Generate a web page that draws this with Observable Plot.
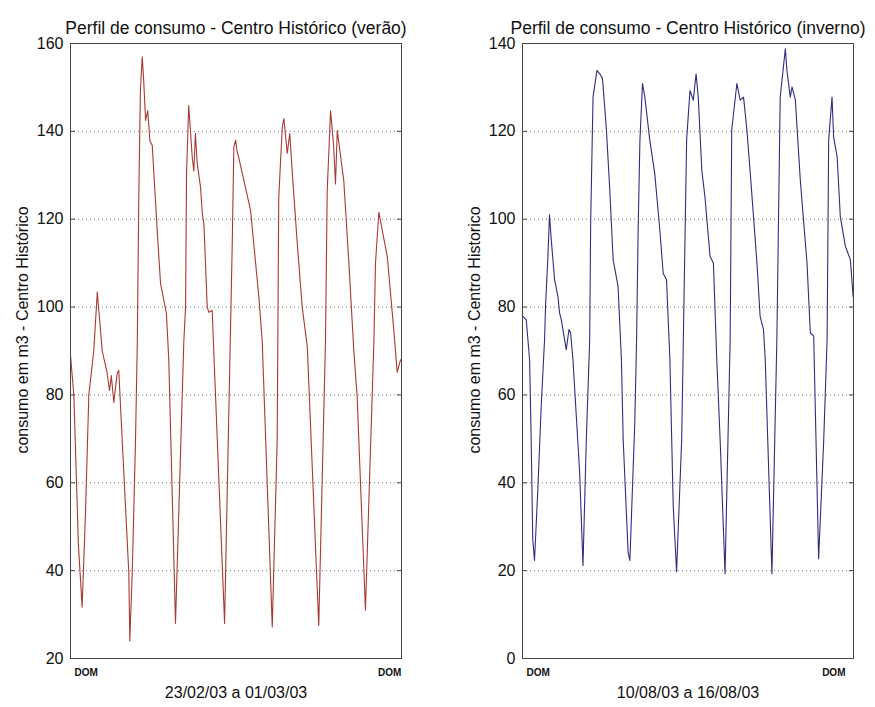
<!DOCTYPE html>
<html>
<head>
<meta charset="utf-8">
<script src="https://cdn.jsdelivr.net/npm/d3@7"></script>
<script src="https://cdn.jsdelivr.net/npm/@observablehq/plot@0.6"></script>
<style>
  html, body { margin: 0; padding: 0; background: #fff; }
  #wrap { display: flex; width: 875px; height: 707px; }
</style>
</head>
<body>
<div id="wrap"></div>
<script>
// ---- Data (hour of the week, consumption m3) ----
const veraoHora = [0,1.7,4,5.9,7.6,9.3,11.8,13.6,16.1,18.6,19.8,20.7,22.0,23.7,24.5,25.0,27.1,29.6,30.1,31.3,33.0,33.9,34.7,35.5,36.4,37.1,38.1,39.2,40.3,41.5,44.0,45.7,48.7,49.9,53.3,57.5,58.4,58.9,60.0,61.8,62.6,63.4,64.3,66.0,66.9,67.7,69.4,70.2,71.9,78.2,82.1,82.9,83.8,84.6,85.4,91.4,95.6,97.3,102.4,104.9,105.7,107.5,108.3,110.0,111.3,112.5,115.1,117.6,120.2,126.0,129.4,130.3,132.0,133.6,134.5,135.4,138.7,141.3,143.8,145.5,149.7,154.0,154.8,156.5,160.8,164.1,165.8,167.5];
const veraoConsumo = [89,80,46,31.7,53,80,90,103.4,90,85,81,84.4,78.3,85,85.6,81,62,39.4,24,39,69.6,92,126.5,149.3,157,152,142.5,144.7,137.9,136.8,117.4,105.4,98.5,87.8,28,92,100,130.4,145.9,134,131,139.5,132.7,127.3,121.3,119,100,98.8,99.2,28,114.5,136.4,138,135.3,134,122,102.3,92.4,27.2,69.6,125,141,142.9,135,139.5,131,114.5,100,90.9,27.5,92,126.5,144.7,136.4,128,140.2,128.8,110,90,79.5,31,92.4,110,121.6,111.4,94.7,85.2,88];

const invernoHora = [0.2,1.9,3.6,4.4,5.2,6.1,7.8,9.5,11.2,11.7,12.9,13.7,14.6,16.3,18.0,18.8,19.7,22.2,23.6,24.4,25.6,29.0,30.7,32.4,34.1,34.6,35.8,37.8,39.2,40.6,42.6,44.3,46.0,48.5,50.2,51.1,53.6,54.5,57.0,57.9,58.7,59.6,60.9,62.1,64.6,67.1,69.7,71.4,73.1,74.8,76.5,78.2,80.8,83.3,85.0,86.7,88.1,89.2,91.0,92.6,95.2,96.9,98.6,100.3,102.8,105.4,106.2,108.8,110.5,112.2,113.9,115.6,119.0,120.6,122.3,123.2,126.6,129.1,130.8,133.4,134.2,135.9,136.8,138.5,141.0,144.4,146.1,147.8,150.3,152.9,154.6,155.4,157.1,157.9,159.7,161.3,163.9,166.4,167.8];
const invernoConsumo = [77.9,77.1,68,49.9,27.2,22.3,38.6,57.5,72.6,80.2,91.5,101,95.3,86.2,82.4,78.7,77.1,70.3,74.9,74.2,68.1,42.4,21.2,49.9,72.6,99.2,127.8,133.9,133.1,132,120.3,106.6,90.8,84.7,68.1,49.9,24.2,22.3,53.8,72.6,97.6,118,130.9,127.8,118,110.5,97.6,87.7,86.2,68.1,34.8,19.7,49.9,118,129.3,127.1,133.1,127.8,111.2,105.1,91.5,90,68.1,49.9,19.3,72.6,120.3,130.9,127.1,127.8,120.3,110.5,90,77.9,74.9,68.1,19.3,72.6,127.8,138.8,133.9,127.8,130.1,127.1,108.9,90,74.1,73.4,22.7,49.9,72.6,118,127.8,118.7,114.2,100.6,93.8,90.8,82.4];

const veraoYTicks = [20,40,60,80,100,120,140,160];
const invernoYTicks = [0,20,40,60,80,100,120,140];
const veraoXTicks = [8,162];
const invernoXTicks = [8,158];
const xTickLabel = "DOM";

const panels = [
  {
    title: "Perfil de consumo - Centro Histórico (verão)",
    ylabel: "consumo em m3 - Centro Histórico",
    xlabel: "23/02/03 a 01/03/03",
    hora: veraoHora, consumo: veraoConsumo,
    yDomain: [20,160], yTicks: veraoYTicks, xTicks: veraoXTicks,
    color: "#a83a34",
    width: 437, marginLeft: 70, marginRight: 36
  },
  {
    title: "Perfil de consumo - Centro Histórico (inverno)",
    ylabel: "consumo em m3 - Centro Historico",
    xlabel: "10/08/03 a 16/08/03",
    hora: invernoHora, consumo: invernoConsumo,
    yDomain: [0,140], yTicks: invernoYTicks, xTicks: invernoXTicks,
    color: "#2e2e80",
    width: 438, marginLeft: 85, marginRight: 22
  }
];

const wrap = document.getElementById("wrap");
for (const p of panels) {
  const data = p.hora.map((h, i) => ({hora: h, consumo: p.consumo[i]}));
  const chart = Plot.plot({
    width: p.width,
    height: 707,
    marginLeft: p.marginLeft,
    marginRight: p.marginRight,
    marginTop: 43,
    marginBottom: 49,
    style: {fontFamily: "'Liberation Sans', Arial, sans-serif", background: "#fff", color: "#111"},
    x: {domain: [0,168]},
    y: {domain: p.yDomain},
    marks: [
      Plot.gridY(p.yTicks, {stroke: "#222", strokeOpacity: 0.6, strokeDasharray: "1,3"}),
      Plot.line(data, {x: "hora", y: "consumo", stroke: p.color, strokeWidth: 1.1}),
      Plot.frame({stroke: "#444"}),
      Plot.axisY({ticks: p.yTicks, tickSize: -5, tickPadding: 12, fontSize: 16, label: null, stroke: "#444"}),
      Plot.axisY({anchor: "right", ticks: p.yTicks, tickSize: -5, tickFormat: () => "", label: null, stroke: "#444"}),
      Plot.axisX({ticks: p.xTicks, tickSize: 0, tickPadding: 10, tickFormat: () => xTickLabel, fontSize: 10, fontWeight: "bold", label: null}),
      Plot.text([p.title], {frameAnchor: "top", dy: -22, fontSize: 17.5, fill: "#111"}),
      Plot.text([p.ylabel], {frameAnchor: "left", textAnchor: "middle", rotate: -90, dx: -48, dy: -21, fontSize: 16, fill: "#111"}),
      Plot.text([p.xlabel], {frameAnchor: "bottom", dy: 39, fontSize: 16, fill: "#111"})
    ]
  });
  wrap.appendChild(chart);
}
</script>
</body>
</html>
